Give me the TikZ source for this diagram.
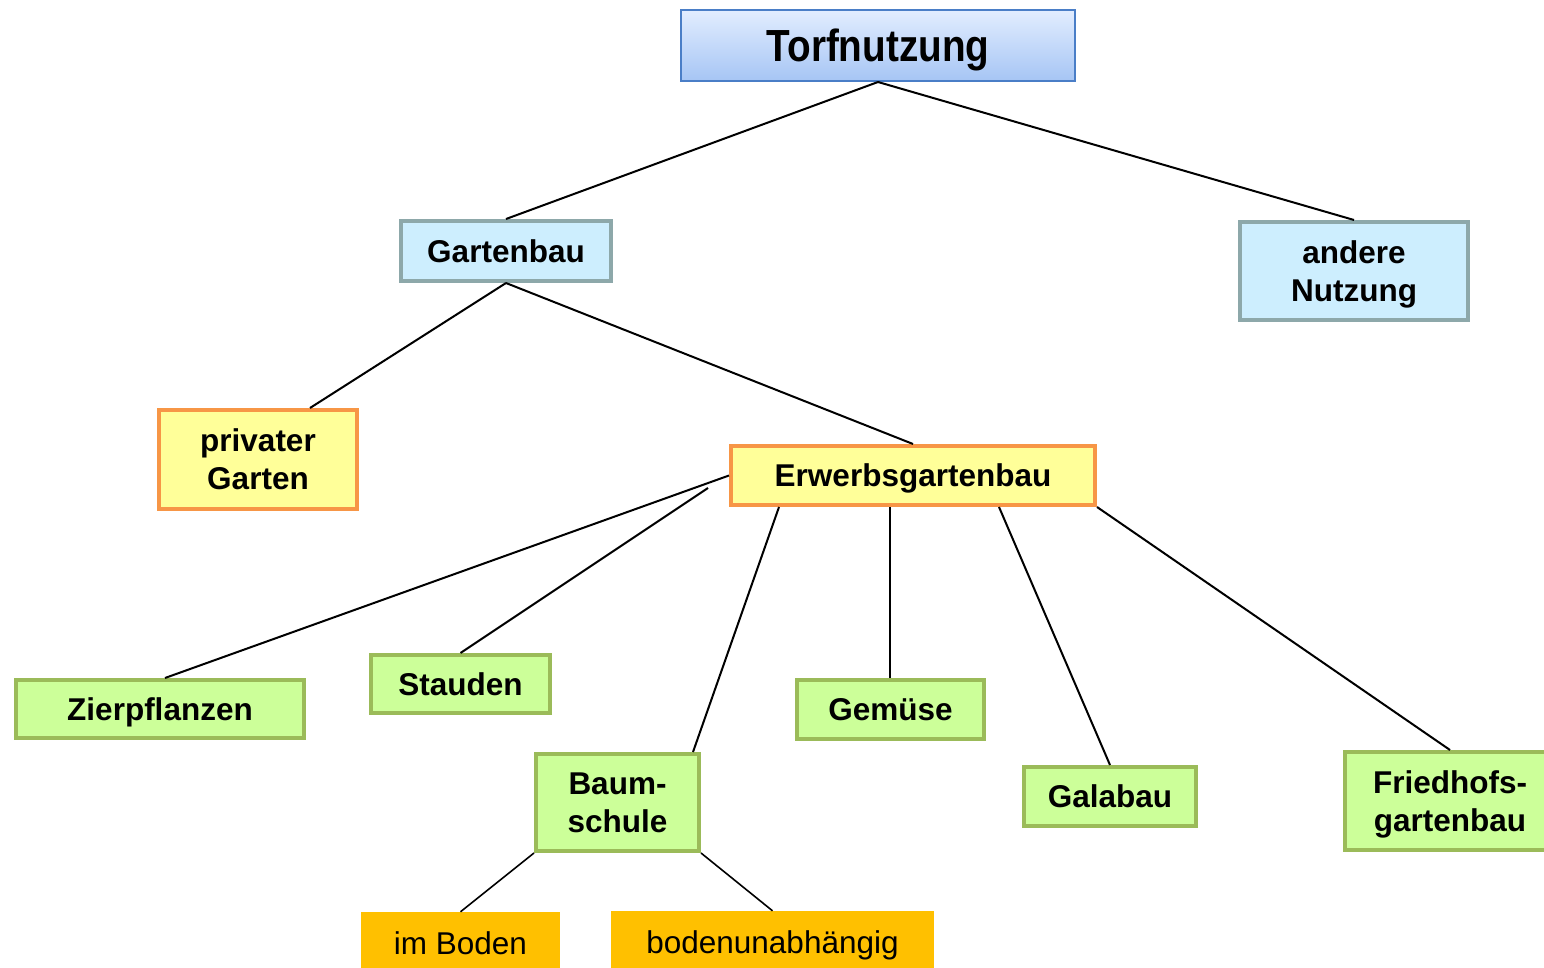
\documentclass[tikz,border=0pt]{standalone}
\usepackage{fontspec}
\setmainfont{Liberation Sans}
\usetikzlibrary{calc}
\definecolor{topborder}{HTML}{4A7EC7}
\definecolor{toptop}{HTML}{E2EDFF}
\definecolor{topbottom}{HTML}{A6C5F4}
\definecolor{bluefill}{HTML}{CDEEFE}
\definecolor{blueline}{HTML}{8DA8AA}
\definecolor{yellowfill}{HTML}{FFFF99}
\definecolor{orangeline}{HTML}{F79646}
\definecolor{greenfill}{HTML}{CCFF99}
\definecolor{greenline}{HTML}{9BBB59}
\definecolor{goldfill}{HTML}{FFC000}
\tikzset{
  box/.style={rectangle, inner sep=0pt, align=center, text=black, text depth=0pt,
    font=\bfseries\fontsize{31.5}{38}\selectfont},
  rootbox/.style={box, draw=topborder, line width=2pt,
    top color=toptop, bottom color=topbottom,
    font=\bfseries\fontsize{45}{50}\selectfont},
  bluebox/.style={box, draw=blueline, fill=bluefill, line width=4pt},
  orangebox/.style={box, draw=orangeline, fill=yellowfill, line width=4pt},
  greenbox/.style={box, draw=greenline, fill=greenfill, line width=4pt},
  goldbox/.style={box, fill=goldfill, font=\fontsize{31.5}{38}\selectfont},
  link/.style={draw=black, line width=2pt},
  thinlink/.style={draw=black, line width=1.6pt},
}
\begin{document}
\begin{tikzpicture}[x=1pt,y=-1pt]
\useasboundingbox (0,0) rectangle (1544,968);

% nodes of the tree
\node[rootbox, minimum width=394, minimum height=71] (torf) at (878,45.5) {\scalebox{0.86}[1]{Torfnutzung}};
\node[bluebox, minimum width=210, minimum height=60] (garten) at (506,251) {Gartenbau};
\node[bluebox, minimum width=228, minimum height=98] (andere) at (1354,271) {andere\\Nutzung};
\node[orangebox, minimum width=198, minimum height=99] (privat) at (258,459.5) {privater\\Garten};
\node[orangebox, minimum width=364, minimum height=59] (erwerb) at (913,475.5) {Erwerbsgartenbau};
\node[greenbox, minimum width=288, minimum height=58] (zier) at (160,709) {Zierpflanzen};
\node[greenbox, minimum width=179, minimum height=58] (stauden) at (460.5,684) {Stauden};
\node[greenbox, minimum width=163, minimum height=97] (baum) at (617.5,802.5) {Baum-\\schule};
\node[greenbox, minimum width=187, minimum height=59] (gemuese) at (890.5,709.5) {Gemüse};
\node[greenbox, minimum width=172, minimum height=59] (gala) at (1110,796.5) {Galabau};
\node[greenbox, minimum width=210, minimum height=98] (fried) at (1450,801) {Friedhofs-\\gartenbau};
\node[goldbox, minimum width=199, minimum height=62] (imboden) at (460.5,943) {im Boden};
\node[goldbox, minimum width=323, minimum height=62] (unabh) at (772.5,942) {bodenunabhängig};

% connectors
\draw[link] (torf.south) -- (garten.north);
\draw[link] (torf.south) -- (andere.north);
\draw[link] (garten.south) -- ([xshift=52]privat.north);
\draw[link] (garten.south) -- (erwerb.north);
\draw[link] (erwerb.west) -- ([xshift=5]zier.north);
\coordinate (staudenstart) at ([xshift=-21,yshift=-12.5]erwerb.west);
\draw[link] (staudenstart) -- (stauden.north);
\draw[link] ([xshift=50]erwerb.south west) -- ([xshift=-8]baum.north east);
\draw[link] ([xshift=-23]erwerb.south) -- ([xshift=-0.5]gemuese.north);
\draw[link] ([xshift=86]erwerb.south) -- (gala.north);
\draw[link] (erwerb.south east) -- (fried.north);
\draw[thinlink] (baum.south west) -- (imboden.north);
\draw[thinlink] (baum.south east) -- (unabh.north);
\end{tikzpicture}
\end{document}
